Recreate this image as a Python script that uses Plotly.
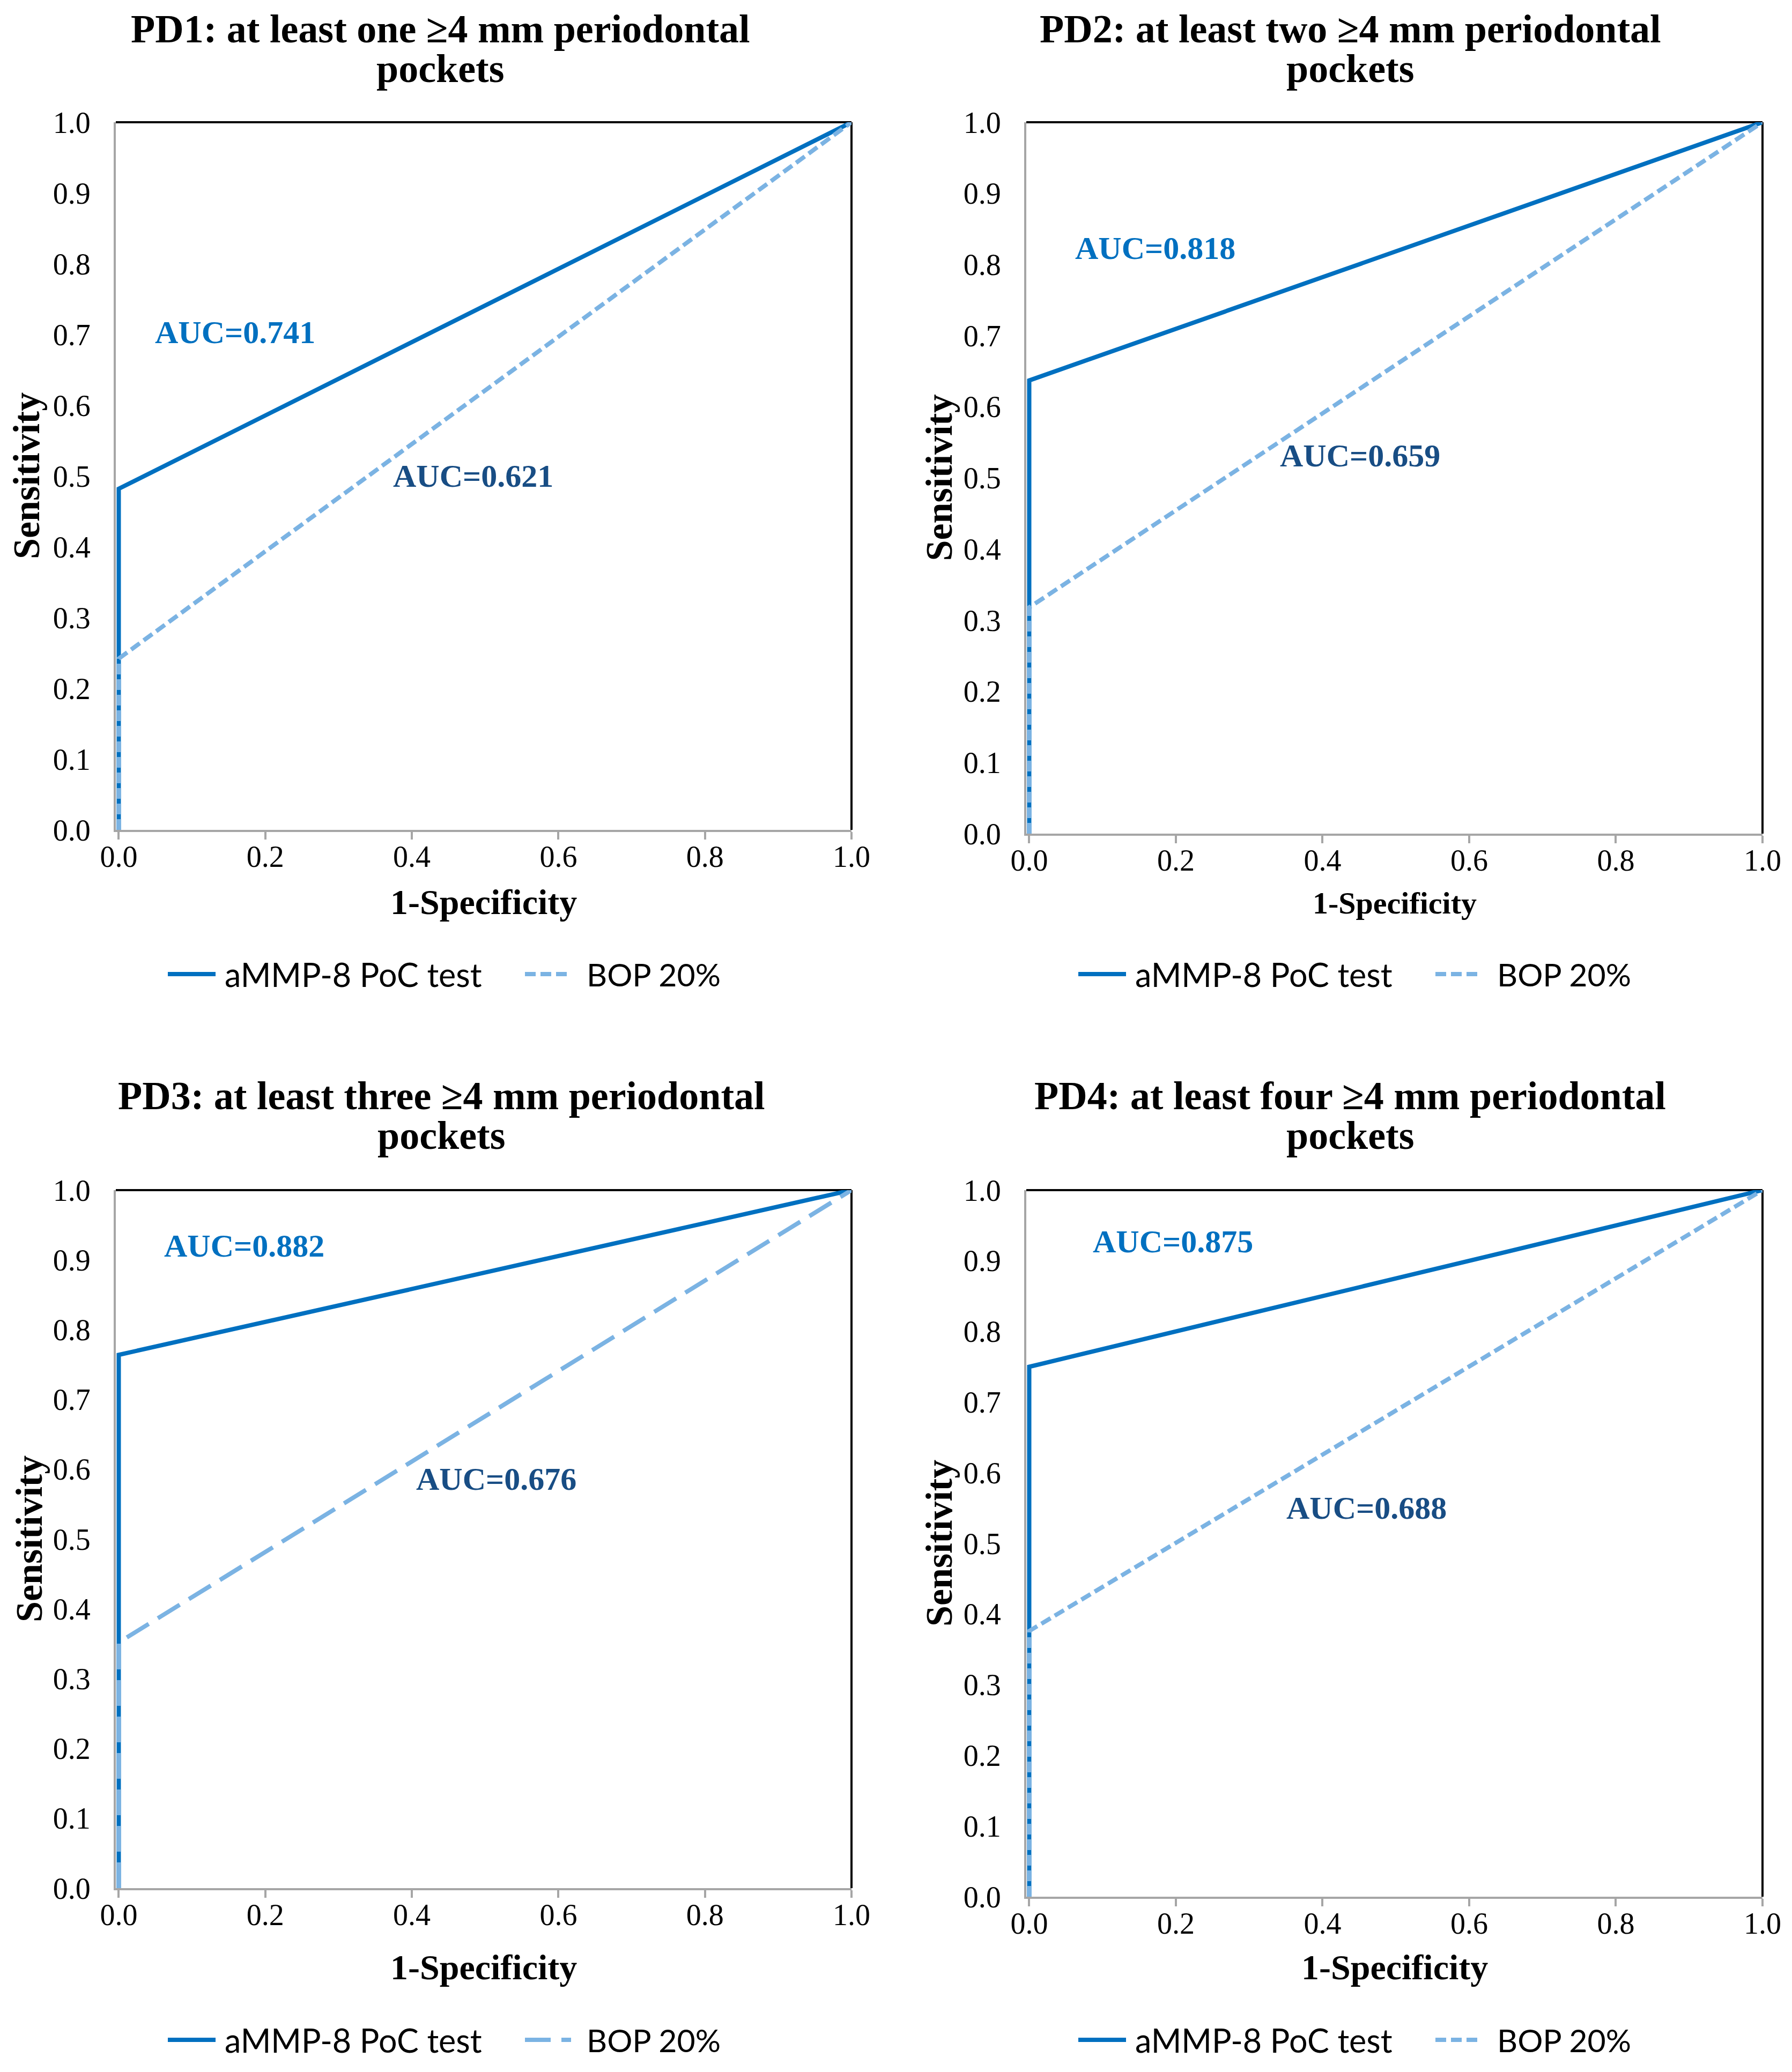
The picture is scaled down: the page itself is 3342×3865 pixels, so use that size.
import plotly.graph_objects as go
from plotly.subplots import make_subplots

W, H = 3342, 3865
PAGE_OFFSET = 8  # default body margin of the written page

# ROC data: (1-specificity, sensitivity)
fpr = [0.0, 0.0, 1.0]
ammp8_pd1 = [0.0, 0.482, 1.0]
bop_pd1 = [0.0, 0.242, 1.0]
ammp8_pd2 = [0.0, 0.637, 1.0]
bop_pd2 = [0.0, 0.318, 1.0]
ammp8_pd3 = [0.0, 0.764, 1.0]
bop_pd3 = [0.0, 0.352, 1.0]
ammp8_pd4 = [0.0, 0.750, 1.0]
bop_pd4 = [0.0, 0.376, 1.0]

auc_ammp8 = ["0.741", "0.818", "0.882", "0.875"]
auc_bop = ["0.621", "0.659", "0.676", "0.688"]

title_line1 = [
    "PD1: at least one ≥4 mm periodontal",
    "PD2: at least two ≥4 mm periodontal",
    "PD3: at least three ≥4 mm periodontal",
    "PD4: at least four ≥4 mm periodontal",
]
title_line2 = ["pockets", "pockets", "pockets", "pockets"]
series_names = ["aMMP-8 PoC test", "BOP 20%"]
x_ticks = [0.0, 0.2, 0.4, 0.6, 0.8, 1.0]
y_ticks = [0.0, 0.1, 0.2, 0.3, 0.4, 0.5, 0.6, 0.7, 0.8, 0.9, 1.0]

ammp8 = [ammp8_pd1, ammp8_pd2, ammp8_pd3, ammp8_pd4]
bop = [bop_pd1, bop_pd2, bop_pd3, bop_pd4]

# layout (pixels in the 3342x3865 page)
boxes = [(216, 1588, 228, 1548), (1914, 3287, 228, 1555),
         (216, 1588, 2220, 3522), (1914, 3287, 2220, 3538)]
title_x = [821, 2518, 823, 2518]
title_y = [(54, 128), (54, 128), (2044, 2118), (2044, 2118)]
xtitle_y = [1682, 1684, 3669, 3669]
xtitle_size = [66, 58, 66, 66]
ytitle_x = [49, 1751, 54, 1751]
legend_y = [1817, 1817, 3805, 3805]
auc_pos_ammp8 = [(0.159, 0.703), (0.172, 0.823), (0.171, 0.92), (0.196, 0.927)]
auc_pos_bop = [(0.484, 0.50), (0.451, 0.531), (0.515, 0.586), (0.46, 0.55)]
bop_dash = ["20px,9px", "20px,9px", "48px,20px", "20px,9px"]

SOLID = "#0070C0"
LIGHT = "#7BB3E3"
DARK = "#184D84"
GRAY = "#A6A6A6"
SERIF = "Liberation Serif, Times New Roman, serif"
SANS = "Lato, Open Sans, sans-serif"


def px_x(v):
    return (v - PAGE_OFFSET) / W


def px_y(v):
    return 1 - (v - PAGE_OFFSET) / H


fig = make_subplots(rows=2, cols=2)

annotations = []
shapes = []
for i in range(4):
    row, col = i // 2 + 1, i % 2 + 1
    fig.add_trace(go.Scatter(x=fpr, y=ammp8[i], mode="lines", name=series_names[0],
                             line=dict(color=SOLID, width=8), showlegend=False),
                  row=row, col=col)
    fig.add_trace(go.Scatter(x=fpr, y=bop[i], mode="lines", name=series_names[1],
                             line=dict(color=LIGHT, width=8, dash=bop_dash[i]), showlegend=False),
                  row=row, col=col)

    x0, x1, y0, y1 = boxes[i]
    sfx = "" if i == 0 else str(i + 1)
    fig.layout["xaxis" + sfx].update(domain=[px_x(x0), px_x(x1)])
    fig.layout["yaxis" + sfx].update(domain=[px_y(y1), px_y(y0)])

    xr, yr = "x" + sfx, "y" + sfx

    # black top and right frame
    shapes.append(dict(type="line", xref=xr + " domain", yref=yr + " domain", x0=0, x1=1, y0=1, y1=1,
                       line=dict(color="black", width=4), layer="below"))
    shapes.append(dict(type="line", xref=xr + " domain", yref=yr + " domain", x0=1, x1=1, y0=0, y1=1,
                       line=dict(color="black", width=4), layer="below"))

    # panel title
    for line_text, ty in zip((title_line1[i], title_line2[i]), title_y[i]):
        annotations.append(dict(text=line_text, xref="paper", yref="paper", x=px_x(title_x[i]), y=px_y(ty),
                                xanchor="center", yanchor="middle", showarrow=False,
                                font=dict(family=SERIF, size=74, color="black", weight="bold")))

    # axis titles
    annotations.append(dict(text="1-Specificity", xref="paper", yref="paper", x=px_x((x0 + x1) / 2),
                            y=px_y(xtitle_y[i]), xanchor="center", yanchor="middle", showarrow=False,
                            font=dict(family=SERIF, size=xtitle_size[i], color="black", weight="bold")))
    annotations.append(dict(text="Sensitivity", xref="paper", yref="paper", x=px_x(ytitle_x[i]),
                            y=px_y((y0 + y1) / 2), xanchor="center", yanchor="middle", textangle=-90,
                            showarrow=False,
                            font=dict(family=SERIF, size=70, color="black", weight="bold")))

    # AUC labels
    annotations.append(dict(text="AUC=" + auc_ammp8[i], xref=xr, yref=yr,
                            x=auc_pos_ammp8[i][0], y=auc_pos_ammp8[i][1], showarrow=False,
                            xanchor="center", yanchor="middle",
                            font=dict(family=SERIF, size=60, color=SOLID, weight="bold")))
    annotations.append(dict(text="AUC=" + auc_bop[i], xref=xr, yref=yr,
                            x=auc_pos_bop[i][0], y=auc_pos_bop[i][1], showarrow=False,
                            xanchor="center", yanchor="middle",
                            font=dict(family=SERIF, size=60, color=DARK, weight="bold")))

    # legend below each panel
    ly = px_y(legend_y[i])
    shapes.append(dict(type="line", xref="paper", yref="paper", x0=px_x(x0 + 97), x1=px_x(x0 + 186),
                       y0=ly, y1=ly, line=dict(color=SOLID, width=8)))
    shapes.append(dict(type="line", xref="paper", yref="paper", x0=px_x(x0 + 763), x1=px_x(x0 + 849),
                       y0=ly, y1=ly, line=dict(color=LIGHT, width=8, dash=bop_dash[i])))
    annotations.append(dict(text=series_names[0], xref="paper", yref="paper", x=px_x(x0 + 201), y=ly,
                            xanchor="left", yanchor="middle", showarrow=False,
                            font=dict(family=SANS, size=61, color="black")))
    annotations.append(dict(text=series_names[1], xref="paper", yref="paper", x=px_x(x0 + 876), y=ly,
                            xanchor="left", yanchor="middle", showarrow=False,
                            font=dict(family=SANS, size=59, color="black")))

# small left pad so the vertical segment at x=0 is not half clipped
fig.update_xaxes(range=[-0.004, 1], tickvals=x_ticks, tickformat=".1f", showgrid=False, zeroline=False,
                 showline=True, linecolor=GRAY, linewidth=4, ticks="outside", ticklen=14,
                 tickwidth=4, tickcolor=GRAY, ticklabelstandoff=-16, automargin=False,
                 tickfont=dict(family=SERIF, size=56, color="black"))
fig.update_yaxes(range=[0, 1], tickvals=y_ticks, tickformat=".1f", showgrid=False, zeroline=False,
                 showline=True, linecolor=GRAY, linewidth=4, ticks="", ticklabelstandoff=32,
                 automargin=False,
                 tickfont=dict(family=SERIF, size=56, color="black"))

fig.update_layout(width=W, height=H, margin=dict(l=0, r=0, t=0, b=0, autoexpand=False),
                  plot_bgcolor="white", paper_bgcolor="white",
                  annotations=annotations, shapes=shapes, showlegend=False)

fig.write_html("out.html")
